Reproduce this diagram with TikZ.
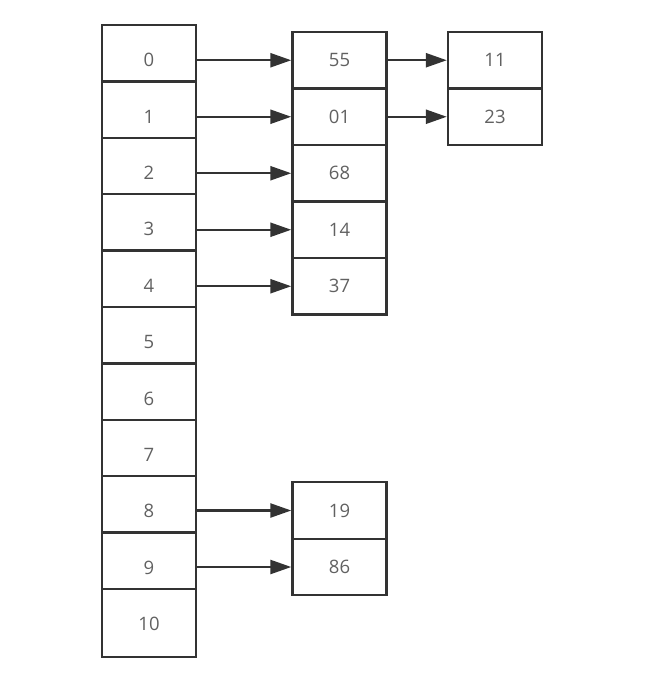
\documentclass[tikz,border=0pt]{standalone}
\usepackage{fontspec}
\setmainfont{Open Sans}
\usetikzlibrary{arrows.meta}
\begin{document}
\begin{tikzpicture}[x=1pt, y=-1pt,
    cell/.style={draw=black!80, line width=2.4pt, minimum width=94pt, minimum height=56.5pt, inner sep=0pt},
    key/.style={text=black!62, font=\fontsize{18.5}{20}\selectfont},
    ptr/.style={draw=black!80, line width=2.4pt, -{Triangle[length=21pt, width=14pt]}}]
    \useasboundingbox (0,0) rectangle (650,676);
    \def\h{56.4}
    % bucket array, the last slot is taller
    \foreach \i in {0,...,9}{
        \node[cell] (h\i) at (149, 25+\i*\h+\h/2) {};
    }
    \node[cell, minimum height=68pt] (h10) at (149, 623) {};
    % the keys sit a bit low in each slot
    \foreach \i in {0,...,10}{
        \node[key] (k\i) at (149, 60+\i*\h) {\i};
    }
    % chains
    \foreach \v/\y [count=\j from 0] in {55/60.25, 01/116.75, 68/173.25, 14/229.75, 37/286.25}{
        \node[cell, key] (b\j) at (339.5, \y) {\v};
    }
    \node[cell, key] (b8) at (339.5, 510.5) {19};
    \node[cell, key] (b9) at (339.5, 567) {86};
    \node[cell, key] (c0) at (495, 60.25) {11};
    \node[cell, key] (c1) at (495, 116.75) {23};
    \foreach \i in {0,1,2,3,4,8,9}{
        \draw[ptr] (b\i.west -| h\i.east) -- (b\i.west);
    }
    \foreach \i in {0,1}{
        \draw[ptr] (b\i.east) -- (c\i.west);
    }
\end{tikzpicture}
\end{document}
